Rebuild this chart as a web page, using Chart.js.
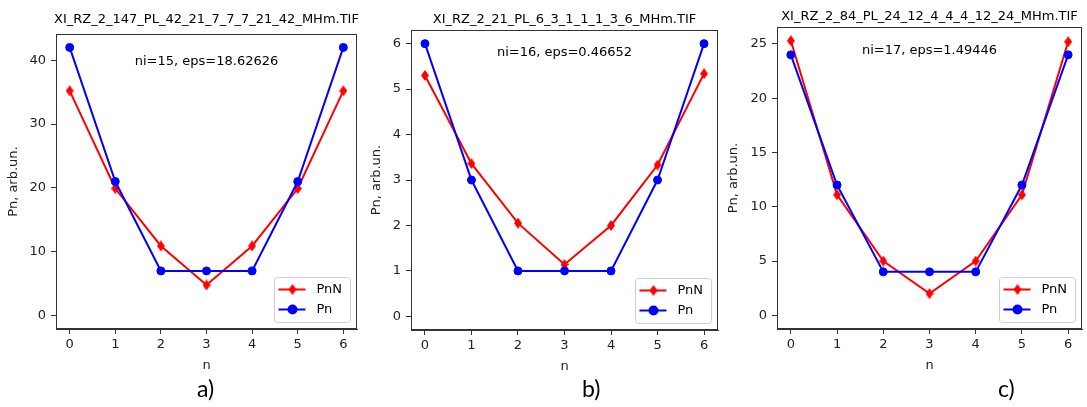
<!DOCTYPE html>
<html>
<head>
<meta charset="utf-8">
<script src="https://cdn.jsdelivr.net/npm/chart.js@4.4.0/dist/chart.umd.min.js"></script>
<style>
  body { margin: 0; background: #fff; }
  #wrap { position: relative; width: 1087px; height: 407px; overflow: hidden; }
  canvas { position: absolute; top: 0; }
  .cap { position: absolute; top: 374px; font-family: Lato, "Open Sans", sans-serif; font-size: 23px; color: #000; }
</style>
</head>
<body>
<div id="wrap">
  <canvas id="chartA" width="362" height="407" style="left:0px"></canvas>
  <canvas id="chartB" width="362" height="407" style="left:362px"></canvas>
  <canvas id="chartC" width="363" height="407" style="left:724px"></canvas>
  <div class="cap" style="left:197px">a)</div>
  <div class="cap" style="left:582px">b)</div>
  <div class="cap" style="left:998px">c)</div>
</div>
<script>
// x values (n) shared by all three panels
const nValues = [0, 1, 2, 3, 4, 5, 6];
const xTicks = [0, 1, 2, 3, 4, 5, 6];

// a) 42_21_7_7_7_21_42
const pnnA = [35.2, 19.9, 10.9, 4.8, 10.9, 19.9, 35.2];
const pnA = [42, 21, 7, 7, 7, 21, 42];
const yTicksA = [0, 10, 20, 30, 40];

// b) 6_3_1_1_1_3_6
const pnnB = [5.30, 3.36, 2.05, 1.14, 2.00, 3.33, 5.34];
const pnB = [6, 3, 1, 1, 1, 3, 6];
const yTicksB = [0, 1, 2, 3, 4, 5, 6];

// c) 24_12_4_4_4_12_24
const pnnC = [25.3, 11.1, 5.0, 2.0, 5.0, 11.1, 25.2];
const pnC = [24, 12, 4, 4, 4, 12, 24];
const yTicksC = [0, 5, 10, 15, 20, 25];

const titles = [
    'XI_RZ_2_147_PL_42_21_7_7_7_21_42_MHm.TIF',
    'XI_RZ_2_21_PL_6_3_1_1_1_3_6_MHm.TIF',
    'XI_RZ_2_84_PL_24_12_4_4_4_12_24_MHm.TIF'
];
const notes = ['ni=15, eps=18.62626', 'ni=16, eps=0.46652', 'ni=17, eps=1.49446'];

const FONT = '"DejaVu Sans", sans-serif';

// matplotlib 'd' marker (thin diamond)
function thinDiamond(color, w, h) {
    const c = document.createElement('canvas');
    c.width = w;
    c.height = h;
    const g = c.getContext('2d');
    g.fillStyle = color;
    g.beginPath();
    g.moveTo(w / 2, 0);
    g.lineTo(w, h / 2);
    g.lineTo(w / 2, h);
    g.lineTo(0, h / 2);
    g.closePath();
    g.fill();
    return c;
}
const redDiamond = thinDiamond('#ff0000', 8, 11);

// frame, title, note and legend box
const panelDeco = {
    id: 'panelDeco',
    beforeDatasetsDraw(chart, args, o) {
        const {ctx, chartArea: a} = chart;
        ctx.save();
        ctx.strokeStyle = '#333';
        ctx.lineWidth = 1;
        ctx.strokeRect(Math.round(a.left) + 0.5, Math.round(a.top) + 0.5, Math.round(a.width) - 1, Math.round(a.height) - 1);
        ctx.restore();
    },
    afterDraw(chart, args, o) {
        const {ctx, chartArea: a} = chart;
        const cx = (a.left + a.right) / 2;
        ctx.save();
        ctx.fillStyle = '#000';
        ctx.font = '13px ' + FONT;
        ctx.textAlign = 'center';
        ctx.textBaseline = 'middle';
        ctx.fillText(o.title, cx, a.top - o.titleGap);
        ctx.fillText(o.note, cx, a.top + o.noteGap);

        // legend, lower right
        const bw = 76, bh = 45;
        const bx = Math.round(a.right - 7 - bw) + 0.5;
        const by = Math.round(a.bottom - 7 - bh) + 0.5;
        ctx.fillStyle = 'rgba(255,255,255,0.8)';
        ctx.strokeStyle = '#d0d0d0';
        ctx.lineWidth = 1;
        ctx.beginPath();
        ctx.roundRect(bx, by, bw, bh, 3);
        ctx.fill();
        ctx.stroke();
        chart.data.datasets.forEach((ds, i) => {
            const y = by + 12 + i * 20;
            ctx.strokeStyle = ds.borderColor;
            ctx.lineWidth = ds.borderWidth;
            ctx.beginPath();
            ctx.moveTo(bx + 4, y);
            ctx.lineTo(bx + 31, y);
            ctx.stroke();
            ctx.fillStyle = ds.pointBackgroundColor;
            ctx.strokeStyle = ds.pointBorderColor;
            Chart.helpers.drawPoint(ctx, {
                pointStyle: ds.pointStyle,
                radius: ds.pointRadius,
                borderWidth: ds.pointBorderWidth,
                rotation: 0
            }, bx + 18, y);
            ctx.fillStyle = '#000';
            ctx.textAlign = 'left';
            ctx.fillText(ds.label, bx + 42, y);
        });
        ctx.restore();
    }
};

function toPoints(ys) {
    return nValues.map((n, i) => ({x: n, y: ys[i]}));
}

function makePanel(id, pnn, pn, yTicks, yMin, yMax, p) {
    const ctx = document.getElementById(id).getContext('2d');
    return new Chart(ctx, {
        type: 'line',
        data: {
            datasets: [{
                label: 'PnN',
                data: toPoints(pnn),
                borderColor: '#ff0000',
                borderWidth: 2,
                pointStyle: redDiamond,
                pointRadius: 5,
                pointBackgroundColor: '#ff0000',
                pointBorderColor: '#ff0000',
                pointBorderWidth: 0,
                order: 1
            }, {
                label: 'Pn',
                data: toPoints(pn),
                borderColor: '#0000ff',
                borderWidth: 2,
                pointStyle: 'circle',
                pointRadius: 4,
                pointBackgroundColor: '#0000ff',
                pointBorderColor: '#0000ff',
                pointBorderWidth: 1,
                order: 0
            }]
        },
        options: {
            responsive: false,
            animation: false,
            events: [],
            layout: {
                padding: {left: 0, right: p.right, top: p.top, bottom: 407 - p.bottom - 44}
            },
            plugins: {
                legend: {display: false},
                tooltip: {enabled: false},
                panelDeco: {title: p.title, note: p.note, titleGap: p.titleGap, noteGap: p.noteGap}
            },
            scales: {
                x: {
                    type: 'linear',
                    min: -0.3,
                    max: 6.3,
                    afterBuildTicks: s => { s.ticks = xTicks.map(v => ({value: v})); },
                    afterFit: s => { s.height = 44; },
                    grid: {drawOnChartArea: false, drawTicks: true, tickLength: 5, color: '#333'},
                    border: {display: true, color: '#333'},
                    ticks: {color: '#222', padding: 3, font: {family: FONT, size: 13}},
                    title: {display: true, text: 'n', color: '#222', padding: {top: 0, bottom: 0},
                        font: {family: FONT, size: 13}}
                },
                y: {
                    min: yMin,
                    max: yMax,
                    afterBuildTicks: s => { s.ticks = yTicks.map(v => ({value: v})); },
                    afterFit: s => { s.width = p.left; },
                    grid: {drawOnChartArea: false, drawTicks: true, tickLength: 5, color: '#333'},
                    border: {display: true, color: '#333'},
                    ticks: {color: '#222', padding: 5, font: {family: FONT, size: 13}},
                    title: {display: true, text: 'Pn, arb.un.', color: '#222', padding: {top: p.yTitle, bottom: 0},
                        font: {family: FONT, size: 13}}
                }
            }
        },
        plugins: [panelDeco]
    });
}

makePanel('chartA', pnnA, pnA, yTicksA, -2.1, 44.1,
    {left: 56, right: 5, top: 34, bottom: 329, yTitle: 6, titleGap: 14, noteGap: 28, title: titles[0], note: notes[0]});
makePanel('chartB', pnnB, pnB, yTicksB, -0.3, 6.3,
    {left: 49, right: 6, top: 30, bottom: 330, yTitle: 7, titleGap: 10, noteGap: 23, title: titles[1], note: notes[1]});
makePanel('chartC', pnnC, pnC, yTicksC, -1.265, 26.565,
    {left: 53, right: 5, top: 27, bottom: 329, yTitle: 2, titleGap: 10, noteGap: 24, title: titles[2], note: notes[2]});
</script>
</body>
</html>
